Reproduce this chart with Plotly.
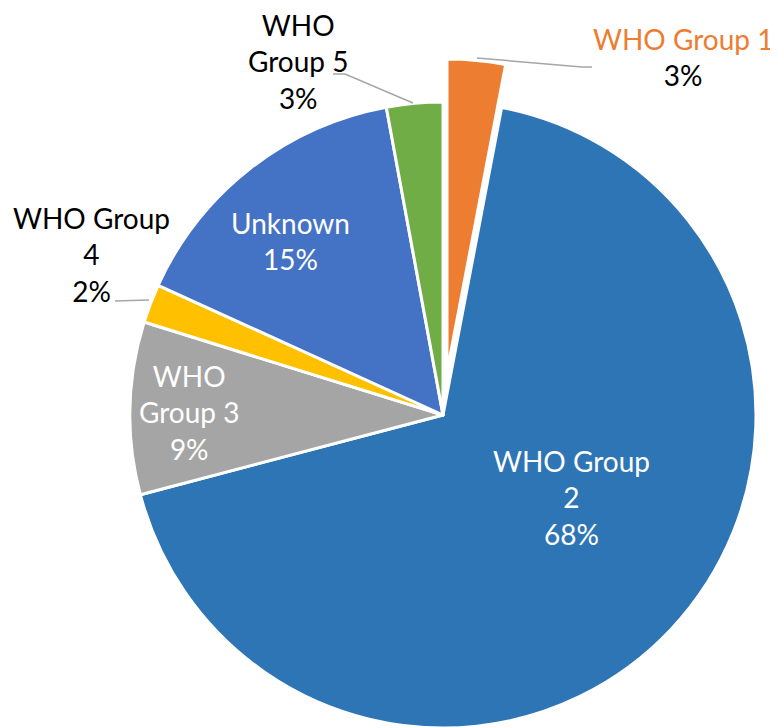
"""Pie chart of WHO pulmonary hypertension groups, Excel-style exploded slice."""

import plotly.graph_objects as go

# page body keeps its default 8px margin, so the figure is drawn a bit smaller
OFFSET = 8
W, H = 778 - OFFSET, 728 - OFFSET

# Data
LABELS = ["WHO Group 1", "WHO Group 2", "WHO Group 3", "WHO Group 4", "Unknown", "WHO Group 5"]
VALUES = [3.0, 67.9, 8.9, 2.0, 15.3, 2.9]
COLORS = ["#ED7D31", "#2E75B6", "#A5A5A5", "#FFC000", "#4472C4", "#70AD47"]
# label text as wrapped in the original
LABEL_LINES = ["WHO Group 1", "WHO Group<br>2", "WHO<br>Group 3", "WHO Group<br>4", "Unknown", "WHO<br>Group 5"]

FONT = "Lato"
FONT_SIZE = 28
LEADER = "#A6A6A6"
TRANSPARENT = "rgba(0,0,0,0)"


def px_x(x):
    """Screen pixel x -> paper x."""
    return (x - OFFSET) / W


def px_y(y):
    """Screen pixel y -> paper y."""
    return 1 - (y - OFFSET) / H


def pct(v):
    return f"{round(v)}%"


fig = go.Figure()

# Main pie (orange slice left empty; it is drawn exploded by the second trace)
main_colors = [TRANSPARENT] + COLORS[1:]
fig.add_trace(
    go.Pie(
        labels=LABELS,
        values=VALUES,
        sort=False,
        direction="clockwise",
        rotation=0,
        textinfo="none",
        hoverinfo="label+percent",
        marker=dict(colors=main_colors, line=dict(color="white", width=[0, 3, 3, 3, 3, 3])),
        domain=dict(x=[px_x(130), px_x(756)], y=[px_y(728), px_y(102)]),
        showlegend=False,
    )
)

# Exploded WHO Group 1 slice
rest = sum(VALUES) - VALUES[0]
fig.add_trace(
    go.Pie(
        labels=[LABELS[0], "rest"],
        values=[VALUES[0], rest],
        sort=False,
        direction="clockwise",
        rotation=0,
        textinfo="none",
        hoverinfo="skip",
        marker=dict(colors=[COLORS[0], TRANSPARENT], line=dict(color="white", width=[3, 0])),
        domain=dict(x=[px_x(134), px_x(760)], y=[px_y(685), px_y(59)]),
        showlegend=False,
    )
)

# Data labels: (index, center x, center y, color)
label_pos = [
    (1, 571, 497, "white"),
    (2, 189, 412, "white"),
    (3, 91, 254, "black"),
    (4, 290, 241, "white"),
    (5, 298, 62, "black"),
]
for i, x, y, color in label_pos:
    fig.add_annotation(
        x=px_x(x), y=px_y(y), xref="paper", yref="paper",
        text=f"{LABEL_LINES[i]}<br>{pct(VALUES[i])}",
        showarrow=False, xanchor="center", yanchor="middle", borderpad=0,
        font=dict(family=FONT, size=FONT_SIZE, color=color),
    )

fig.add_annotation(
    x=px_x(683), y=px_y(57), xref="paper", yref="paper",
    text=f"<span style='color:{COLORS[0]}'>{LABEL_LINES[0]}</span><br>{pct(VALUES[0])}",
    showarrow=False, xanchor="center", yanchor="middle", borderpad=0,
    font=dict(family=FONT, size=FONT_SIZE, color="black"),
)

# Leader lines for outside labels
leaders = [
    [(477, 58), (582, 67), (592, 67)],
    [(413, 103), (345, 74), (333, 74)],
    [(149, 300), (115, 301)],
]
for pts in leaders:
    path = "M " + " L ".join(f"{px_x(x)},{px_y(y)}" for x, y in pts)
    fig.add_shape(type="path", path=path, xref="paper", yref="paper",
                  line=dict(color=LEADER, width=1.5))

fig.update_layout(
    width=W,
    height=H,
    margin=dict(l=0, r=0, t=0, b=0),
    paper_bgcolor="white",
    plot_bgcolor="white",
    showlegend=False,
)

fig.write_html("out.html")
